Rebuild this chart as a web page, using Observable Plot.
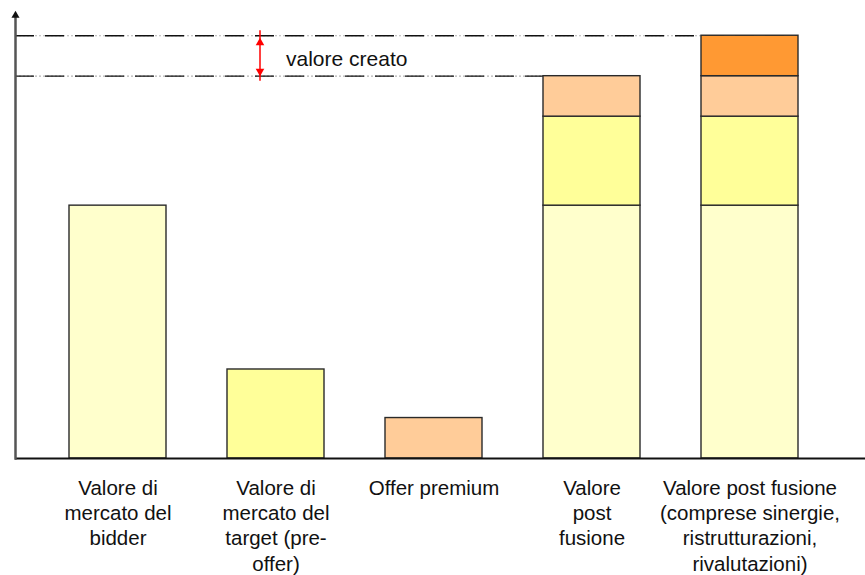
<!DOCTYPE html>
<html><head><meta charset="utf-8">
<script src="https://cdn.jsdelivr.net/npm/d3@7"></script>
<script src="https://cdn.jsdelivr.net/npm/@observablehq/plot@0.6"></script>
<style>body{margin:0;background:#fff;}</style>
</head><body><div id="chart"></div>
<script>
const categories = [
  "Valore di mercato del bidder",
  "Valore di mercato del target (pre-offer)",
  "Offer premium",
  "Valore post fusione",
  "Valore post fusione (comprese sinergie, ristrutturazioni, rivalutazioni)"
];
const tickLabels = [
  "Valore di\nmercato del\nbidder",
  "Valore di\nmercato del\ntarget (pre-\noffer)",
  "Offer premium",
  "Valore\npost\nfusione",
  "Valore post fusione\n(comprese sinergie,\nristrutturazioni,\nrivalutazioni)"
];
const components = ["bidder", "target", "premium", "creato"];
const componentValues = [6.25, 2.2, 1.0, 1.0];
const componentColors = ["#FFFFCC", "#FFFF99", "#FFCC99", "#FF9933"];
const barComponents = [[0], [1], [2], [0, 1, 2], [0, 1, 2, 3]];
const annotationText = "valore creato";

const rows = [];
categories.forEach((c, i) => barComponents[i].forEach(k =>
  rows.push({category: c, component: components[k], value: componentValues[k]})));
const totals = categories.map(c => d3.sum(rows.filter(r => r.category === c), r => r.value));
const levels = [
  {y: totals[3], end: categories[3]},
  {y: totals[4], end: categories[4]}
];
const arrowX = categories[1];
const mid = (totals[3] + totals[4]) / 2;
const labelOf = new Map(categories.map((c, i) => [c, tickLabels[i]]));

const chart = Plot.plot({
  width: 865,
  height: 575,
  marginTop: 15,
  marginLeft: 15,
  marginRight: 0,
  marginBottom: 117,
  style: {fontFamily: "'Liberation Sans', Arial, sans-serif", background: "#fff", color: "#111"},
  x: {type: "band", domain: categories, paddingInner: 0.388, paddingOuter: 0.377, align: 0.448, axis: null},
  y: {domain: [0, 10.95], axis: null},
  color: {domain: components, range: componentColors},
  marks: [
    Plot.ruleY(levels, {y: "y", x1: null, x2: "end", stroke: "#b4b4b4", strokeWidth: 1.2, strokeDasharray: "2,2"}),
    Plot.ruleY(levels, {y: "y", x1: null, x2: "end", stroke: "#111", strokeWidth: 1.3, strokeDasharray: "19,11"}),
    Plot.barY(rows, {x: "category", y: "value", fill: "component", stroke: "#2a2a2a", strokeWidth: 1.4}),
    Plot.ruleY([0], {stroke: "#111", strokeWidth: 2}),
    Plot.frame({anchor: "left", stroke: "#555", strokeWidth: 2.5}),
    Plot.dot([0], {x: null, y: null, frameAnchor: "top-left", symbol: "triangle", r: 3, fill: "#111", stroke: "none"}),
    Plot.ruleX([arrowX], {x: d => d, y1: totals[3], y2: totals[4], dx: -16, stroke: "red", strokeWidth: 1.5, insetTop: 5, insetBottom: 5}),
    Plot.dot([arrowX], {x: d => d, y: totals[4], dx: -16, dy: 7, symbol: "triangle", r: 3.2, fill: "red", stroke: "none"}),
    Plot.dot([arrowX], {x: d => d, y: totals[3], dx: -16, dy: -5, symbol: "triangle", rotate: 180, r: 3.2, fill: "red", stroke: "none"}),
    Plot.text([annotationText], {x: () => arrowX, y: () => mid, text: d => d, dx: 10, dy: 3, textAnchor: "start", fontSize: 21, fill: "#111"}),
    Plot.axisX({tickSize: 0, tickPadding: 18, fontSize: 20.5, lineHeight: 1.24, label: null, fill: "#111", tickFormat: d => labelOf.get(d)})
  ]
});
document.getElementById("chart").appendChild(chart);
</script>
</body></html>
